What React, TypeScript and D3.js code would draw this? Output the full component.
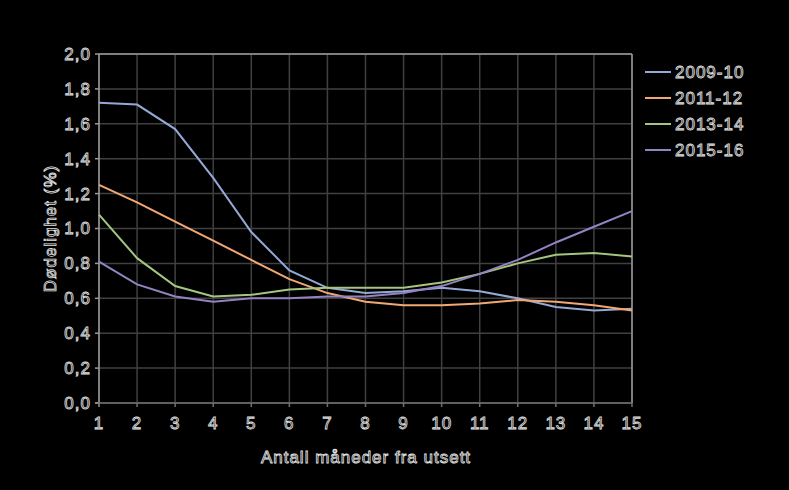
import React from "react";
import * as d3 from "d3";

const months = [1, 2, 3, 4, 5, 6, 7, 8, 9, 10, 11, 12, 13, 14, 15];
const seriesNames = ["2009-10", "2011-12", "2013-14", "2015-16"];
const s2009 = [1.72, 1.71, 1.57, 1.29, 0.98, 0.76, 0.66, 0.63, 0.64, 0.66, 0.64, 0.6, 0.55, 0.53, 0.54];
const s2011 = [1.25, 1.15, 1.04, 0.93, 0.82, 0.71, 0.63, 0.58, 0.56, 0.56, 0.57, 0.59, 0.58, 0.56, 0.53];
const s2013 = [1.08, 0.83, 0.67, 0.61, 0.62, 0.65, 0.66, 0.66, 0.66, 0.69, 0.74, 0.8, 0.85, 0.86, 0.84];
const s2015 = [0.81, 0.68, 0.61, 0.58, 0.6, 0.6, 0.61, 0.61, 0.63, 0.67, 0.74, 0.82, 0.92, 1.01, 1.1];
const seriesValues = [s2009, s2011, s2013, s2015];
const colors = ["#95A9D6", "#F2A873", "#A5C67F", "#9483C2"];
const yTicks = [0, 0.2, 0.4, 0.6, 0.8, 1.0, 1.2, 1.4, 1.6, 1.8, 2.0];
const xTitle = "Antall måneder fra utsett";
const yTitle = "Dødelighet (%)";

const W = 789, H = 490;
const left = 99, right = 632, top = 54, bottom = 403;

export default function App() {
  const x = d3.scaleLinear().domain([1, 15]).range([left, right]);
  const y = d3.scaleLinear().domain([0, 2]).range([bottom, top]);
  const line = d3.line<number>().x((_, i) => x(months[i])).y((d) => y(d));
  const fmt = (v: number) => v.toFixed(1).replace(".", ",");
  const textStyle = { fill: "#000", stroke: "#e4e4e4", strokeWidth: 0.8, fontFamily: "Liberation Sans, Arial, sans-serif", fontSize: 17, letterSpacing: 1 } as const;
  return (
    <svg width={W} height={H} style={{ position: "absolute", left: 0, top: 0, background: "#000" }}>
      <rect x={0} y={0} width={W} height={H} fill="#000" />
      {yTicks.map((t) => (
        <line key={"h" + t} x1={left} x2={right} y1={y(t)} y2={y(t)} stroke="#404040" strokeWidth={1.5} />
      ))}
      {months.map((m) => (
        <line key={"v" + m} x1={x(m)} x2={x(m)} y1={top} y2={bottom} stroke="#404040" strokeWidth={1.5} />
      ))}
      <line x1={left} x2={right} y1={top} y2={top} stroke="#9a9a9a" strokeWidth={1.5} />
      <line x1={right} x2={right} y1={top} y2={bottom} stroke="#9a9a9a" strokeWidth={1.5} />
      <line x1={left} x2={left} y1={top} y2={bottom + 4} stroke="#9a9a9a" strokeWidth={1.5} />
      <line x1={left - 4} x2={right} y1={bottom} y2={bottom} stroke="#707070" strokeWidth={1.5} />
      {yTicks.map((t) => (
        <line key={"yt" + t} x1={left - 4} x2={left} y1={y(t)} y2={y(t)} stroke="#9a9a9a" strokeWidth={1.5} />
      ))}
      {months.map((m) => (
        <line key={"xt" + m} x1={x(m)} x2={x(m)} y1={bottom} y2={bottom + 4} stroke="#707070" strokeWidth={1.5} />
      ))}
      {seriesValues.map((s, i) => (
        <path key={"s" + i} d={line(s) || ""} fill="none" stroke={colors[i]} strokeWidth={2} />
      ))}
      {yTicks.map((t) => (
        <text key={"yl" + t} x={left - 8} y={y(t)} dy="0.35em" textAnchor="end" style={textStyle}>{fmt(t)}</text>
      ))}
      {months.map((m) => (
        <text key={"xl" + m} x={x(m)} y={bottom + 26} textAnchor="middle" style={textStyle}>{m}</text>
      ))}
      <text x={366} y={463} textAnchor="middle" style={textStyle}>{xTitle}</text>
      <text transform={`translate(56,${(top + bottom) / 2}) rotate(-90)`} textAnchor="middle" style={textStyle}>{yTitle}</text>
      {seriesNames.map((n, i) => (
        <g key={"lg" + i} transform={`translate(645,${72 + i * 26})`}>
          <line x1={0} x2={26} y1={0} y2={0} stroke={colors[i]} strokeWidth={2} />
          <text x={30} y={0} dy="0.35em" style={textStyle}>{n}</text>
        </g>
      ))}
    </svg>
  );
}
